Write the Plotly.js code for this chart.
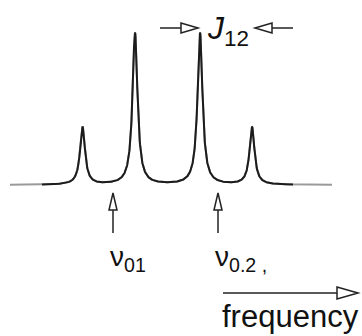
<!DOCTYPE html>
<html>
<head>
<meta charset="utf-8">
<script src="https://cdn.plot.ly/plotly-3.0.1.min.js"></script>
<style>
  html, body { margin: 0; padding: 0; background: #fff; }
  #plot { width: 362px; height: 336px; }
</style>
</head>
<body>
<div id="plot"></div>
<script>
// AB spin system: four lines, two strong inner and two weak outer lines
const peakPositions = [82.5, 135, 200, 252];   // frequency (arb. units)
const peakHeights   = [0.38, 1.0, 1.0, 0.38];  // relative intensity
const lineHalfWidth = 3.0;                      // Lorentzian half width
const chemicalShifts = [113, 218];              // nu_01, nu_02
const shiftLabels = ['ν<sub>01</sub>', 'ν<sub>0.2 ,</sub>'];
const couplingLabel = '<i>J</i><sub>12</sub>';
const axisLabel = 'frequency';
const freqStart = 10, freqEnd = 332;

const W = 362, H = 336;
const baselinePx = 185, unitPx = 152;
const P = py => 1 - py / H;   // pixel row -> paper fraction

// Sum of Lorentzian lines, sampled along the frequency axis
const fx = [], fy = [];
for (let f = freqStart; f <= freqEnd + 1e-9; f += 0.25) {
  let s = 0;
  for (let i = 0; i < peakPositions.length; i++) {
    const d = (f - peakPositions[i]) / lineHalfWidth;
    s += peakHeights[i] / (1 + d * d);
  }
  fx.push(f); fy.push(s);
}
const inner = fx.map((f, i) => (f >= 42 && f <= 293) ? fy[i] : null);

const traces = [
  { x: fx, y: fy, mode: 'lines', line: { color: '#9a9a9a', width: 2 }, hoverinfo: 'skip' },
  { x: fx, y: inner, mode: 'lines', line: { color: '#1c1c1c', width: 2 }, hoverinfo: 'skip', connectgaps: false }
];

const shapes = [];
const ink = '#222';
function line(x0, y0, x1, y1) {
  shapes.push({ type: 'line', xref: 'x', yref: 'paper', x0, x1, y0: P(y0), y1: P(y1),
                line: { color: ink, width: 1.5 } });
}
function tri(pts) {
  const d = 'M' + pts.map(p => p[0] + ',' + P(p[1])).join(' L') + ' Z';
  shapes.push({ type: 'path', xref: 'x', yref: 'paper', path: d,
                fillcolor: '#fff', line: { color: ink, width: 1.5 } });
}

// Upward open arrows marking the chemical shifts
chemicalShifts.forEach(nu => {
  line(nu, 210, nu, 233);
  tri([[nu, 193], [nu - 4, 210], [nu + 4, 210]]);
});

// Coupling arrows pointing at the pair of lines separated by J12
const jl = peakPositions[2] - 2, jr = peakPositions[3] + 3, jy = 28;
line(jl - 38, jy, jl - 16, jy);
tri([[jl, jy], [jl - 17, jy - 5], [jl - 17, jy + 5]]);
line(jr + 16, jy, jr + 38, jy);
tri([[jr, jy], [jr + 17, jy - 5], [jr + 17, jy + 5]]);

// Frequency direction arrow
line(223, 293, 338, 293);
tri([[358, 293], [337, 287], [337, 299]]);

const font = { family: 'Liberation Sans, Arial, sans-serif', color: '#111' };
const annotations = [];
chemicalShifts.forEach((nu, i) => {
  annotations.push({ text: shiftLabels[i], xref: 'x', yref: 'paper', x: nu - 5, y: P(239),
    xanchor: 'left', yanchor: 'top', showarrow: false, font: Object.assign({ size: 28 }, font) });
});
annotations.push({ text: couplingLabel, xref: 'x', yref: 'paper', x: 205, y: P(8),
  xanchor: 'left', yanchor: 'top', showarrow: false, font: Object.assign({ size: 32 }, font) });
annotations.push({ text: axisLabel, xref: 'x', yref: 'paper', x: 220, y: P(297),
  xanchor: 'left', yanchor: 'top', showarrow: false, font: Object.assign({ size: 31 }, font) });

const layout = {
  width: W, height: H,
  margin: { l: 0, r: 0, t: 0, b: 0, pad: 0 },
  paper_bgcolor: '#fff', plot_bgcolor: '#fff',
  showlegend: false,
  xaxis: { range: [0, W], visible: false, fixedrange: true },
  yaxis: { range: [-(H - baselinePx) / unitPx, baselinePx / unitPx], visible: false, fixedrange: true },
  shapes, annotations
};

Plotly.newPlot('plot', traces, layout, { staticPlot: true, displayModeBar: false });
</script>
</body>
</html>
